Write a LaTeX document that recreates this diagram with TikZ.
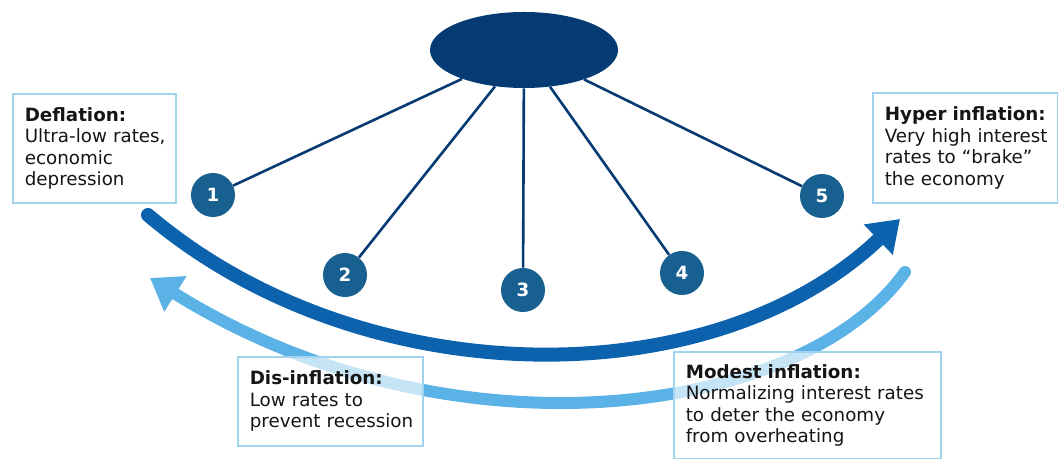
\documentclass[tikz,border=0pt]{standalone}
\usepackage{fontspec}
\setmainfont{DejaVu Sans}
\usepackage{xcolor}
\usetikzlibrary{shapes.geometric,arrows.meta}
\definecolor{navy}{HTML}{063A73}
\definecolor{badgeblue}{HTML}{17608F}
\definecolor{darkarc}{HTML}{0D62AE}
\definecolor{lightarc}{HTML}{5AB2E6}
\definecolor{boxline}{HTML}{9FD3EE}
\definecolor{ink}{HTML}{151515}
\hyphenpenalty=10000
\exhyphenpenalty=10000

\begin{document}
\begin{tikzpicture}[x=0.025cm, y=-0.025cm,
        badge/.style={circle, fill=badgeblue, text=white, minimum size=1.1cm, inner sep=0pt, font=\bfseries\fontsize{13}{13}\selectfont},
        spoke/.style={navy, line width=0.065cm},
        note/.style={draw=boxline, line width=0.04cm, fill=white, fill opacity=0.65, text opacity=1, text=ink, anchor=north west, align=left, inner xsep=0.3cm, inner ysep=0pt, font=\fontsize{13}{15.3}\selectfont}]
        \useasboundingbox (0,0) rectangle (1058,459);

        % Draw the hub and the numbered stages
        \node[ellipse, fill=navy, minimum width=4.7cm, minimum height=1.9cm, inner sep=0pt] (hub) at (524,50) {};
        \foreach \i/\x/\y in {1/213/195, 2/345/275, 3/523/290, 4/682/273, 5/822/196}
            \node[badge] (n\i) at (\x,\y) {\i};
        \foreach \i in {1,...,5}
            \draw[spoke] (hub) -- (n\i);

        % Draw the two arcs
        \draw[lightarc, line width=0.3cm, line cap=round, -{Triangle[length=0.75cm, width=1.0cm]}] (905,272) .. controls (800,419) and (447,464) .. (150,278);
        \draw[darkarc, line width=0.35cm, line cap=round, -{Triangle[length=0.75cm, width=1.0cm]}] (148,215) .. controls (360,395) and (711,399) .. (900,219);

        % Draw the text boxes
        \node[note, text width=3.475cm, minimum height=2.725cm] (deflation) at (12,93) {\textbf{Deflation:}\\Ultra-low~rates,\\economic\\depression};
        \node[note, text width=4.025cm, minimum height=2.75cm] (hyper) at (872,92) {\textbf{Hyper~inflation:}\\Very~high~interest\\rates to “brake”\\the economy};
        \node[note, text width=4.025cm, minimum height=2.225cm] (disinflation) at (237,356) {\textbf{Dis-inflation:}\\Low rates to\\prevent~recession};
        \node[note, text width=6.075cm, minimum height=2.675cm] (modest) at (673,351) {\textbf{Modest inflation:}\\Normalizing interest rates\\to deter the economy\\from overheating};

    \end{tikzpicture}
\end{document}
